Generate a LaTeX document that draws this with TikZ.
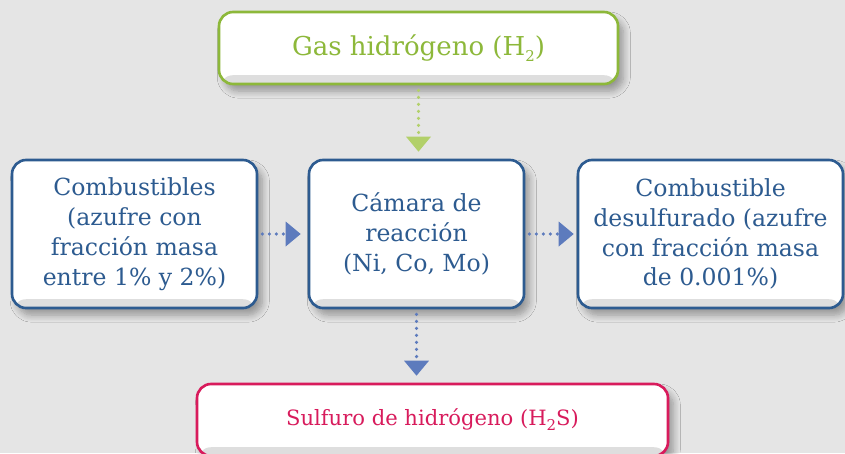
\documentclass[tikz,border=0pt]{standalone}
\usepackage{fontspec}
\setmainfont{DejaVu Serif}
\usetikzlibrary{arrows.meta,positioning,calc,shadows.blur}

\definecolor{gasgreen}{HTML}{8DB83A}
\definecolor{flowgreen}{HTML}{B2D06A}
\definecolor{fuelblue}{HTML}{2D5B90}
\definecolor{flowblue}{HTML}{5D7BBD}
\definecolor{sulfred}{HTML}{D81B5C}
\definecolor{backgray}{HTML}{E5E5E5}

\newcommand{\lowsub}[1]{\raisebox{-0.45ex}{\fontsize{8.5}{8.5}\selectfont #1}}

\begin{document}
\begin{tikzpicture}[>=Latex,
    box/.style={draw=#1, line width=1.5pt, fill=white, rounded corners=8pt, align=center, text=#1,
      font=\fontsize{13.4}{17}\selectfont, inner sep=2pt,
      blur shadow={shadow xshift=3pt, shadow yshift=-4pt, shadow blur steps=8, shadow blur radius=4pt, shadow opacity=35},
      path picture={\fill[black!13] ([yshift=5pt]path picture bounding box.south west) rectangle (path picture bounding box.south east);}},
    flow/.style={draw=#1, line width=2pt, dash pattern=on 0pt off 4pt, line cap=round,
      -{Triangle[length=0.3cm, width=0.5cm, line width=0pt, fill=#1]}}]
    \fill[backgray] (0,0) rectangle (16.9,-9.06);
    \useasboundingbox (0,0) rectangle (16.9,-9.06);

    \node[box=gasgreen, minimum width=7.98cm, minimum height=1.44cm, font=\fontsize{14.8}{17}\selectfont] (h2) at (8.37,-0.96) {Gas hidrógeno (H\lowsub{2})};
    \node[box=fuelblue, minimum width=4.9cm, minimum height=2.96cm] (fuel) at (2.69,-4.68) {Combustibles\\(azufre con\\fracción masa\\entre 1\% y 2\%)};
    \node[box=fuelblue, minimum width=4.3cm, minimum height=2.96cm] (reactor) at (8.33,-4.68) {Cámara de\\reacción\\(Ni, Co, Mo)};
    \node[box=fuelblue, minimum width=5.3cm, minimum height=2.96cm] (clean) at (14.21,-4.68) {Combustible\\desulfurado (azufre\\con fracción masa\\de 0.001\%)};
    \node[box=sulfred, minimum width=9.42cm, minimum height=1.44cm, font=\fontsize{12}{17}\selectfont] (h2s) at (8.65,-8.4) {Sulfuro de hidrógeno (H\lowsub{2}S)};

    \draw[flow=flowgreen, shorten <=0.1cm, shorten >=0.14cm] (h2.south) -- (h2.south |- reactor.north);
    \draw[flow=flowblue, shorten <=0.08cm, shorten >=0.14cm] (fuel) -- (reactor);
    \draw[flow=flowblue, shorten <=0.08cm, shorten >=0.06cm] (reactor) -- (clean);
    \draw[flow=flowblue, shorten <=0.1cm, shorten >=0.14cm] (reactor.south) -- (reactor.south |- h2s.north);
  \end{tikzpicture}
\end{document}
